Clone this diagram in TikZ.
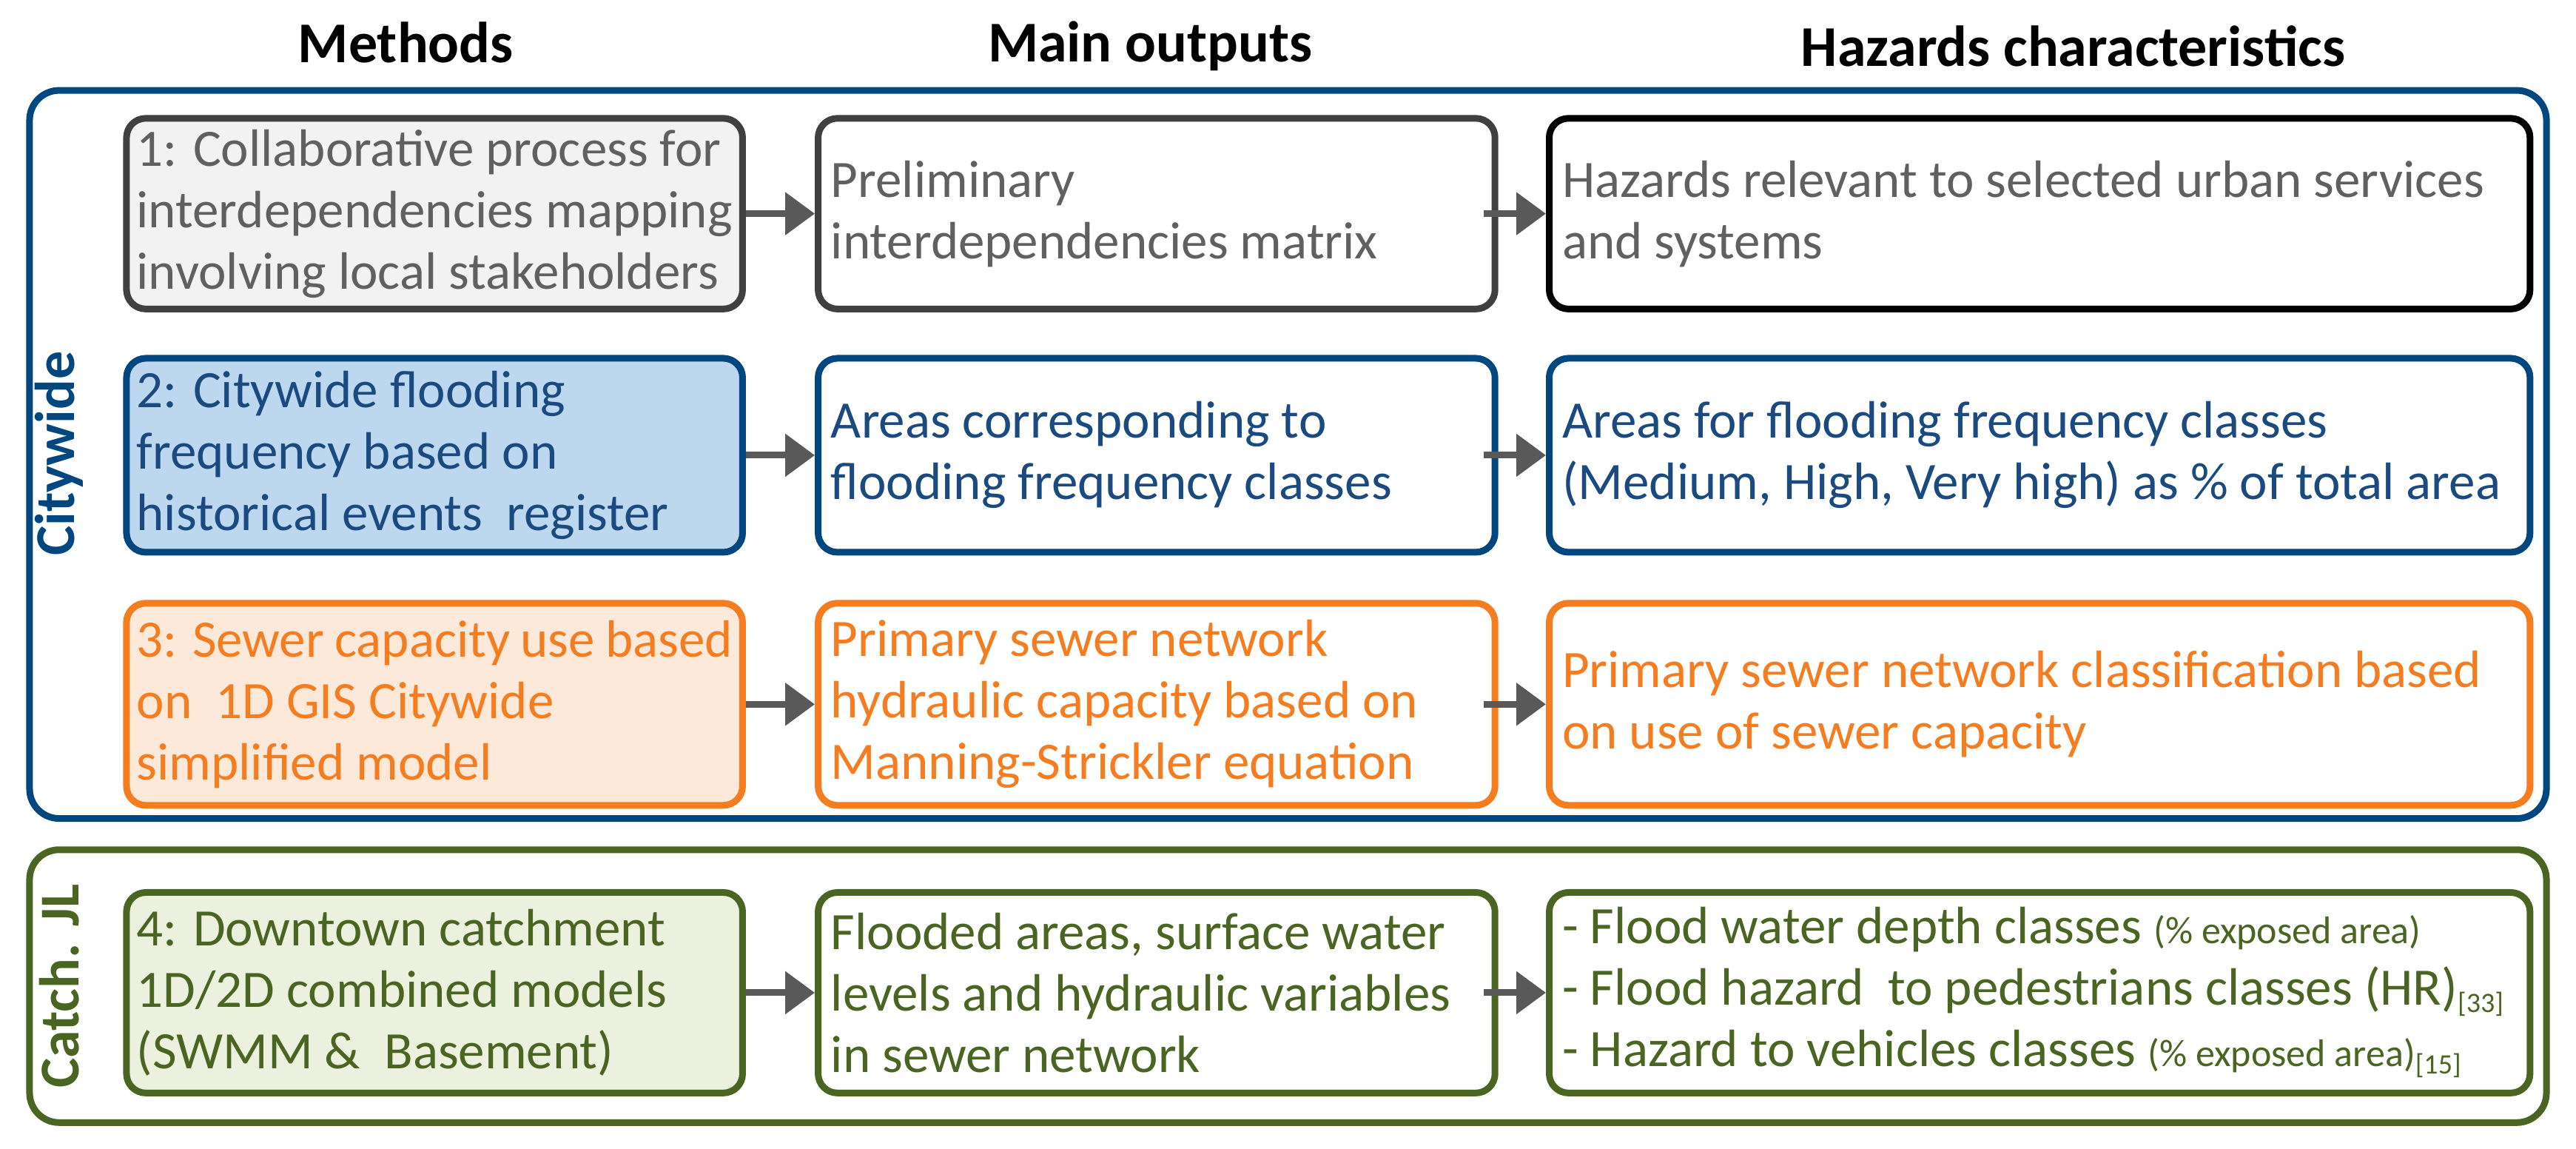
\documentclass[tikz,border=0pt]{standalone}
\usepackage{fontspec}
\setmainfont{Carlito}
\usetikzlibrary{fit,arrows.meta}
\definecolor{navy}{HTML}{1A4A80}
\definecolor{obox}{HTML}{00467F}
\definecolor{orng}{HTML}{F57C1F}
\definecolor{ofill}{HTML}{FDE9DA}
\definecolor{grn}{HTML}{4A6422}
\definecolor{gfill}{HTML}{EBF1DE}
\definecolor{bfill}{HTML}{BDD7EE}
\definecolor{dgray}{HTML}{404040}
\definecolor{tgray}{HTML}{606060}
\definecolor{agray}{HTML}{595959}
\begin{document}
\begin{tikzpicture}[x=2.22pt,y=-2.22pt,
  box/.style={draw, line width=9pt, rounded corners=26pt, inner sep=0pt},
  txt/.style={inner sep=0pt, align=flush left, font=\fontsize{71}{83}\selectfont},
  c1/.style={txt, text width=805pt},
  c2/.style={txt, text width=880pt},
  c3/.style={txt, text width=1290pt},
  outer/.style={draw, line width=9pt, rounded corners=40pt},
  hdr/.style={font=\fontsize{78}{90}\selectfont\bfseries},
  side/.style={font=\fontsize{76}{90}\selectfont\bfseries, rotate=90},
  arr/.style={draw=agray, line width=9pt, -{Triangle[length=40pt,width=56pt]}}]
\useasboundingbox (0,0) rectangle (1568,699);
\node[hdr] (h1) at (247,26) {Methods};
\node[hdr] (h2) at (700,28) {Main outputs};
\node[hdr] (h3) at (1262,28) {Hazards characteristics};
\draw[outer, obox] (18,55) rectangle (1550,498);
\draw[outer, grn] (18,517) rectangle (1550,683);
\node[side, obox] (s1) at (36,276) {Citywide};
\node[side, grn] (s2) at (36,600) {Catch. JL};
% row 1
\node[box, draw=dgray, fill=black!5, fit={(77,72)(452,188)}] (a1) {};
\node[c1, text=tgray] (ta1) at (a1) {1: Collaborative process for interdependencies mapping involving local stakeholders};
\node[box, draw=dgray, fit={(498,72)(910,188)}] (b1) {};
\node[c2, text=tgray] (tb1) at (b1) {Preliminary\\interdependencies matrix};
\node[box, draw=black, fit={(943,72)(1540,188)}] (d1) {};
\node[c3, text=tgray] (td1) at (d1) {Hazards relevant to selected urban services\\and systems};
% row 2
\node[box, draw=obox, fill=bfill, fit={(77,218)(452,336)}] (a2) {};
\node[c1, text=navy] (ta2) at (a2) {2: Citywide flooding\\frequency based on\\historical events\ \ register};
\node[box, draw=obox, fit={(498,218)(910,336)}] (b2) {};
\node[c2, text=navy] (tb2) at (b2) {Areas corresponding to\\flooding frequency classes};
\node[box, draw=obox, fit={(943,218)(1540,336)}] (d2) {};
\node[c3, text=navy] (td2) at (d2) {Areas for flooding frequency classes\\(Medium, High, Very high) as \% of total area};
% row 3
\node[box, draw=orng, fill=ofill, fit={(77,367)(452,490)}] (a3) {};
\node[c1, text=orng] (ta3) at (a3) {3: Sewer capacity use based\\on\ \ 1D GIS Citywide\\simplified model};
\node[box, draw=orng, fit={(498,367)(910,490)}] (b3) {};
\node[c2, text=orng] (tb3) at (b3) {Primary sewer network\\hydraulic capacity based on\\Manning-Strickler equation};
\node[box, draw=orng, fit={(943,367)(1540,490)}] (d3) {};
\node[c3, text=orng] (td3) at (d3) {Primary sewer network classification based\\on use of sewer capacity};
% row 4
\node[box, draw=grn, fill=gfill, fit={(77,543)(452,665)}] (a4) {};
\node[c1, text=grn] (ta4) at (a4) {4: Downtown catchment\\1D/2D combined models\\(SWMM \&\ \ Basement)};
\node[box, draw=grn, fit={(498,543)(910,665)}] (b4) {};
\node[c2, text=grn] (tb4) at (b4) {Flooded areas, surface water\\levels and hydraulic variables\\in sewer network};
\node[box, draw=grn, fit={(943,543)(1540,665)}] (d4) {};
\node[c3, text=grn] (td4) at (d4) {- Flood water depth classes {\fontsize{52}{60}\selectfont(\% exposed area)}\\
- Flood hazard\ \ to pedestrians classes (HR)\raisebox{-10pt}{\fontsize{38}{44}\selectfont[33]}\\
- Hazard to vehicles classes {\fontsize{52}{60}\selectfont(\% exposed area)}\raisebox{-10pt}{\fontsize{38}{44}\selectfont[15]}};
% arrows
\foreach \r in {1,2,3,4}{
  \draw[arr] (a\r.east) -- (b\r.west);
  \draw[arr] ([xshift=-20pt]b\r.east) -- (d\r.west);
}
\end{tikzpicture}
\end{document}
